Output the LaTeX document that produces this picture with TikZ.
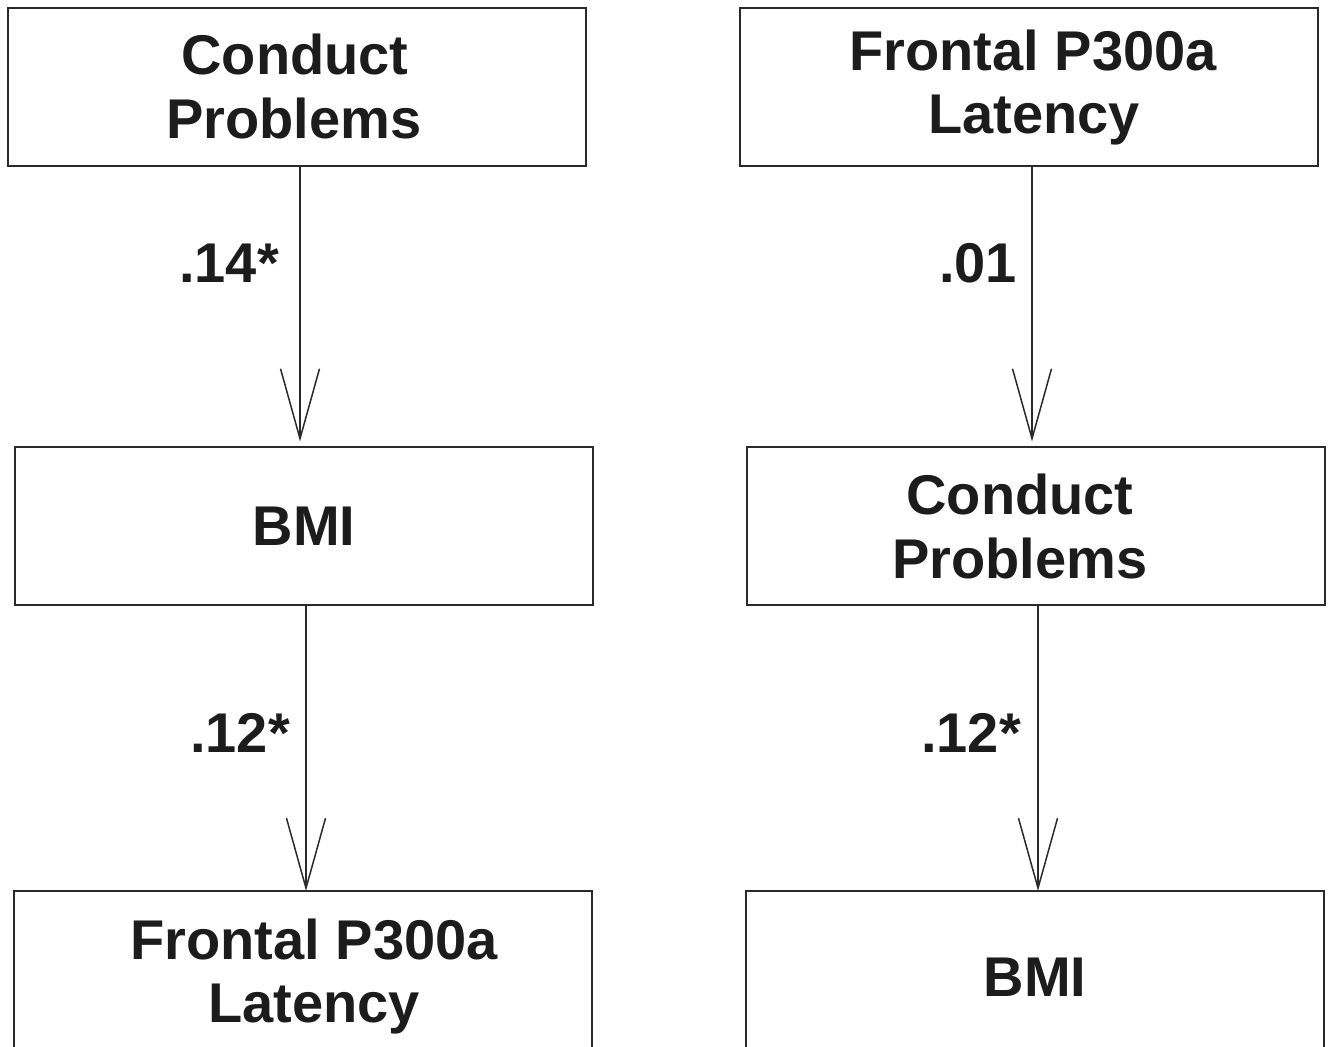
\documentclass[tikz,border=0pt]{standalone}
\usepackage{fontspec}
\setmainfont{Liberation Sans}
\usetikzlibrary{arrows.meta}
\definecolor{ink}{HTML}{1C1C1C}
\definecolor{edge}{HTML}{2A2A2A}
\begin{document}
\begin{tikzpicture}[x=1pt,y=-1pt,
  box/.style={draw=edge, line width=2pt, inner sep=0pt, minimum width=578pt, minimum height=158pt},
  txt/.style={anchor=base, inner sep=0pt, text=ink, font=\fontsize{56}{64}\selectfont\bfseries},
  arr/.style={draw=edge, line width=1.5pt, -{Straight Barb[length=70pt,width=39pt,line width=1.5pt]}}]
\useasboundingbox (0,0) rectangle (1329,1046);
% left column boxes
\node[box] (L1) at (297,87) {};
\node[box] (L2) at (303.5,525.5) {};
\node[box] (L3) at (302.5,970) {};
% right column boxes
\node[box] (R1) at (1028.5,87) {};
\node[box] (R2) at (1035.5,525.5) {};
\node[box] (R3) at (1034.5,970) {};
% texts
\node[txt] (L1a) at (295,75) {Conduct};
\node[txt] (L1b) at (294,138) {Problems};
\node[txt] (L2a) at (304,545) {BMI};
\node[txt] (L3a) at (314,959) {Frontal P300a};
\node[txt] (L3b) at (314,1022) {Latency};
\node[txt] (R1a) at (1033,71) {Frontal P300a};
\node[txt] (R1b) at (1034,133) {Latency};
\node[txt] (R2a) at (1020,514) {Conduct};
\node[txt] (R2b) at (1020,578) {Problems};
\node[txt] (R3a) at (1035,996) {BMI};
% connector x positions
\coordinate (xa) at (300,0);
\coordinate (xb) at (306,0);
\coordinate (xc) at (1032,0);
\coordinate (xd) at (1038,0);
\draw[arr, shorten >=4pt] (L1.south -| xa) -- (L2.north -| xa);
\draw[arr, shorten >=-1pt] (L2.south -| xb) -- (L3.north -| xb);
\draw[arr, shorten >=4pt] (R1.south -| xc) -- (R2.north -| xc);
\draw[arr, shorten >=-1pt] (R2.south -| xd) -- (R3.north -| xd);
% labels
\node[txt] (la) at (229,282) {.14*};
\node[txt] (lb) at (240,752) {.12*};
\node[txt] (lc) at (978,282) {.01};
\node[txt] (ld) at (971,752) {.12*};
\end{tikzpicture}
\end{document}
